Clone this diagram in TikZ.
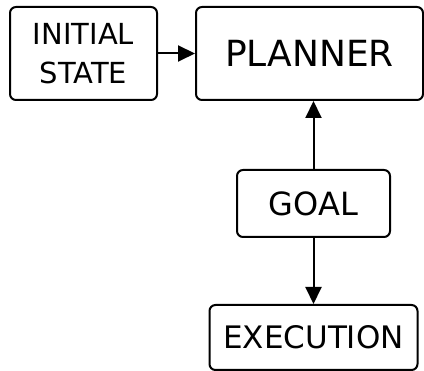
\documentclass[tikz,border=0pt]{standalone}
\usepackage{fontspec}
\setmainfont{DejaVu Sans}
\usetikzlibrary{arrows.meta, positioning}

\tikzset{
  block/.style={draw, rounded corners=6pt, line width=2pt, align=center, inner sep=0pt},
  flow/.style={line width=2pt, -{Triangle[length=17pt, width=16pt]}},
  textsize/.style={font=\fontsize{#1}{39}\selectfont}
}

\begin{document}
\begin{tikzpicture}[x=1pt, y=1pt]
\useasboundingbox (0,0) rectangle (424,-371);

% Define nodes
\path (83.5,-53.5)
node[block, textsize=29, minimum width=147pt, minimum height=93pt] (init) {INITIAL\\STATE}
(init) +(226,0) node[block, textsize=36, minimum width=227pt, minimum height=93pt] (planner) {PLANNER}
(init) +(230,-150) node[block, textsize=32, minimum width=153pt, minimum height=67pt] (goal) {GOAL}
(goal) +(0,-134) node[block, textsize=31, minimum width=208pt, minimum height=65pt] (exec) {EXECUTION}
;

% Arrows
\draw[flow] (init.east) -- (init.east -| planner.west);
\draw[flow] (goal.north) -- (goal.north |- planner.south);
\draw[flow] (goal.south) -- (exec.north);

\end{tikzpicture}
\end{document}
